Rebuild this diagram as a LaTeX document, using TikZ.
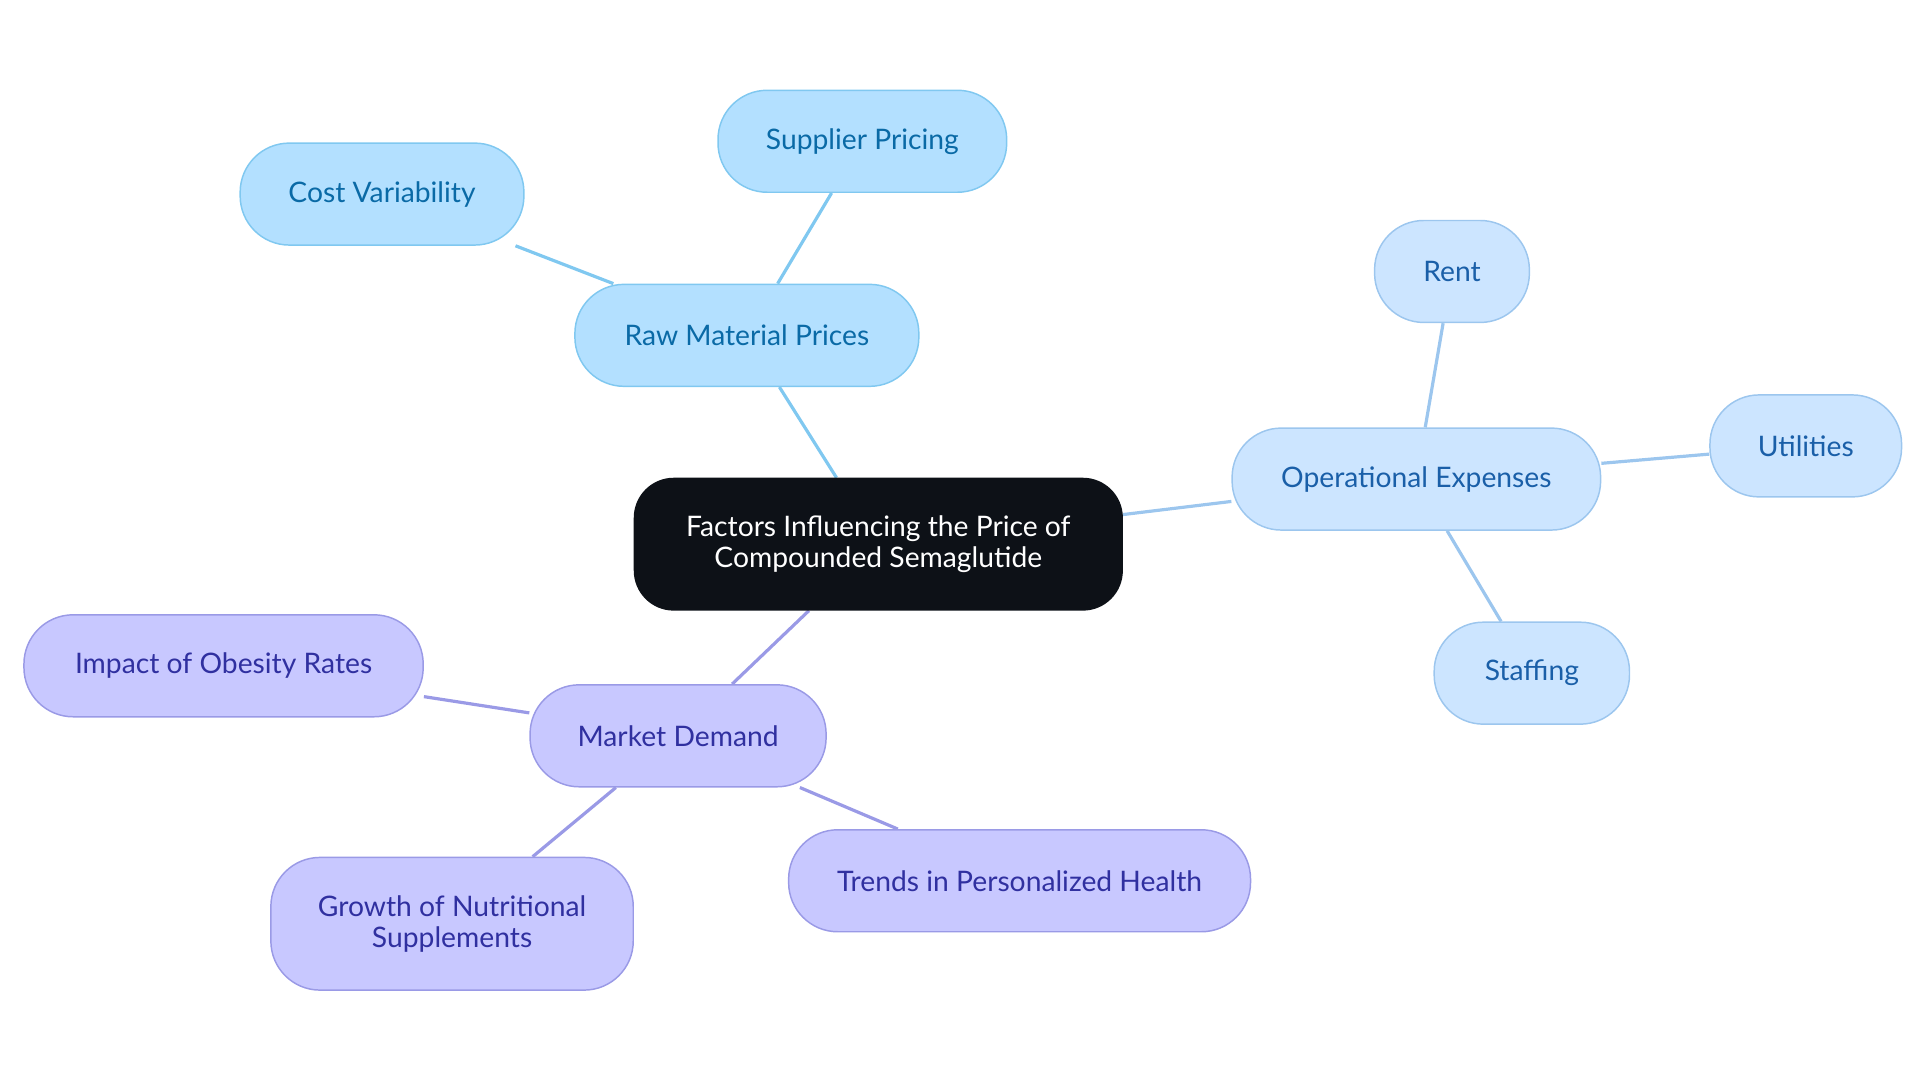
\documentclass[tikz,border=0pt]{standalone}
\usepackage{fontspec}
\setmainfont{Lato}
\usetikzlibrary{backgrounds}
\definecolor{rootc}{HTML}{0D1117}
\definecolor{bfill}{HTML}{B3E0FF}\definecolor{bdraw}{HTML}{80C8F0}\definecolor{btext}{HTML}{0A6AA6}
\definecolor{ofill}{HTML}{CCE5FF}\definecolor{odraw}{HTML}{9CC6EE}\definecolor{otext}{HTML}{1A5FA8}
\definecolor{mfill}{HTML}{C8C8FF}\definecolor{mdraw}{HTML}{9A9AE6}\definecolor{mtext}{HTML}{3030A0}
\begin{document}
\begin{tikzpicture}[x=0.5pt,y=-0.5pt,
  box/.style={rounded corners=20pt,minimum height=41.5pt,align=center,font=\fontsize{11.5}{12.5}\selectfont,line width=0.6pt},
  raw/.style={box,fill=bfill,draw=bdraw,text=btext},
  ops/.style={box,fill=ofill,draw=odraw,text=otext},
  mkt/.style={box,fill=mfill,draw=mdraw,text=mtext},
  bl/.style={draw=bdraw,line width=1.3pt},
  ol/.style={draw=odraw,line width=1.3pt},
  ml/.style={draw=mdraw,line width=1.3pt}]
\useasboundingbox (0,0) rectangle (1563,881);
\node[box,fill=rootc,draw=rootc,text=white,minimum width=198.5pt,minimum height=53.5pt,rounded corners=16pt] (root) at (715,443) {Factors Influencing the Price of\\Compounded Semaglutide};
\node[raw,minimum width=140pt] (raw) at (608,273) {Raw Material Prices};
\node[raw,minimum width=117.5pt] (sup) at (702,115) {Supplier Pricing};
\node[raw,minimum width=115.5pt] (cost) at (311,158) {Cost Variability};
\node[ops,minimum width=150pt] (ops) at (1153,390) {Operational Expenses};
\node[ops,minimum width=63pt] (rent) at (1182,221) {Rent};
\node[ops,minimum width=78pt] (util) at (1470,363) {Utilities};
\node[ops,minimum width=79.5pt] (staff) at (1247,548) {Staffing};
\node[mkt,minimum width=120.5pt] (mkt) at (552,599) {Market Demand};
\node[mkt,minimum width=162.5pt] (obes) at (182,542) {Impact of Obesity Rates};
\node[mkt,minimum width=147.5pt,minimum height=54pt] (grow) at (368,752) {Growth of Nutritional\\Supplements};
\node[mkt,minimum width=188pt] (trend) at (830,717) {Trends in Personalized Health};
\begin{scope}[on background layer]
\draw[bl] (root) -- (raw); \draw[bl] (raw) -- (sup); \draw[bl] (raw) -- (cost);
\draw[ol] (root) -- (ops); \draw[ol] (ops) -- (rent); \draw[ol] (ops) -- (util); \draw[ol] (ops) -- (staff);
\draw[ml] (root) -- (mkt); \draw[ml] (mkt) -- (obes); \draw[ml] (mkt) -- (grow); \draw[ml] (mkt) -- (trend);
\end{scope}
\end{tikzpicture}
\end{document}
